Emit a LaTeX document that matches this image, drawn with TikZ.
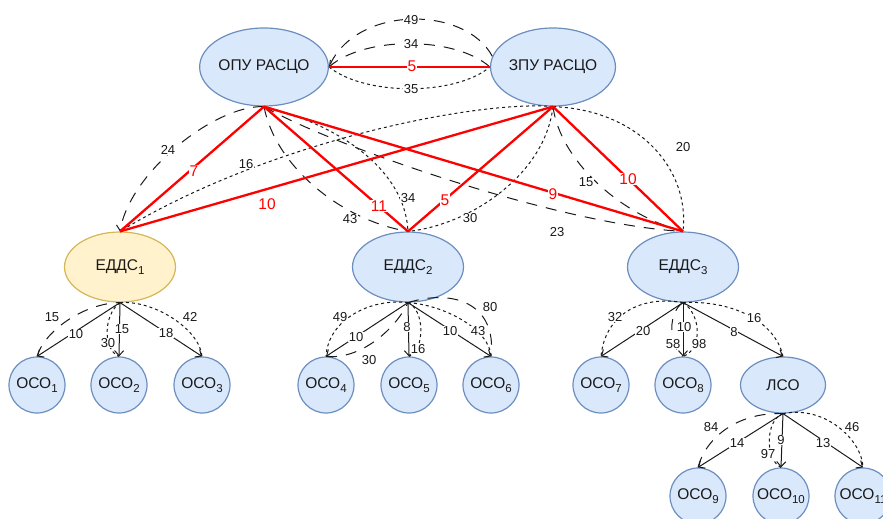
\documentclass[tikz,border=0pt]{standalone}
\usepackage{fontspec}
\setmainfont{Liberation Sans}
\usetikzlibrary{arrows.meta,shapes.geometric}

\definecolor{bluefill}{HTML}{DAE8FC}
\definecolor{bluedraw}{HTML}{6C8EBF}
\definecolor{yelfill}{HTML}{FFF2CC}
\definecolor{yeldraw}{HTML}{D6B656}
\definecolor{linkred}{HTML}{FF0000}
\definecolor{inkdark}{HTML}{1A1A1A}

% lowered index after a node name
\newcommand\lowidx[1]{\raisebox{-0.42ex}{\fontsize{11.5}{12}\selectfont #1}}

\begin{document}
\begin{tikzpicture}[x=1pt,y=-1pt,
  centrebox/.style={ellipse, draw=bluedraw, fill=bluefill, line width=1.2pt,
    minimum width=124pt, minimum height=78pt, inner sep=0pt,
    text=inkdark, font=\fontsize{15.5}{18}\selectfont},
  eddsbox/.style={centrebox, minimum width=111pt, minimum height=70pt},
  eddsmain/.style={eddsbox, draw=yeldraw, fill=yelfill},
  osobox/.style={circle, draw=bluedraw, fill=bluefill, line width=1.2pt,
    minimum size=56pt, inner sep=0pt, text=inkdark,
    font=\fontsize{15.5}{18}\selectfont},
  lsobox/.style={centrebox, minimum width=85pt, minimum height=56pt},
  link/.style={draw=inkdark, line width=1pt},
  tipped/.style={link, -{Straight Barb[length=5pt,width=9pt]}},
  lngdash/.style={link, dash pattern=on 11pt off 9pt},
  dotdash/.style={link, dash pattern=on 3pt off 3pt},
  redlink/.style={draw=linkred, line width=2.3pt},
  lbl/.style={fill=white, inner sep=0.6pt, text=inkdark,
    font=\fontsize{13}{14}\selectfont},
  rlbl/.style={lbl, text=linkred, font=\fontsize{15.5}{17}\selectfont},
]
\path[use as bounding box, clip] (0,0) rectangle (883,519);

% ---------- nodes ----------
\node[centrebox] (opu) at (264,67)  {ОПУ РАСЦО};
\node[centrebox] (zpu) at (553,67)  {ЗПУ РАСЦО};
\node[eddsmain]  (e1)  at (120,267) {ЕДДС\lowidx{1}};
\node[eddsbox]   (e2)  at (408,267) {ЕДДС\lowidx{2}};
\node[eddsbox]   (e3)  at (683,267) {ЕДДС\lowidx{3}};
\node[osobox] (o1) at (37,385)  {ОСО\lowidx{1}};
\node[osobox] (o2) at (119,385) {ОСО\lowidx{2}};
\node[osobox] (o3) at (202,385) {ОСО\lowidx{3}};
\node[osobox] (o4) at (326,385) {ОСО\lowidx{4}};
\node[osobox] (o5) at (409,385) {ОСО\lowidx{5}};
\node[osobox] (o6) at (491,385) {ОСО\lowidx{6}};
\node[osobox] (o7) at (601,385) {ОСО\lowidx{7}};
\node[osobox] (o8) at (683,385) {ОСО\lowidx{8}};
\node[lsobox] (lso) at (783,385) {ЛСО};
\node[osobox] (o9)  at (698,496) {ОСО\lowidx{9}};
\node[osobox] (o10) at (781,496) {ОСО\lowidx{10}};
\node[osobox] (o11) at (863,496) {ОСО\lowidx{11}};

% ---------- links between the two control points ----------
\draw[lngdash] (zpu.170) .. controls (465,5) and (355,5) .. (opu.east);
\draw[lngdash, -{Straight Barb[length=5pt,width=9pt]}] (zpu.west) .. controls (455,36) and (365,36) .. (opu.east);
\draw[dotdash] (opu.east) .. controls (365,96) and (455,96) .. (zpu.west);

% ---------- links from the control points to the ЕДДС ----------
\draw[lngdash, -{Straight Barb[length=5pt,width=9pt]}] (opu.south) .. controls (215,105) and (130,172) .. (e1.north);
\draw[lngdash] (opu.south) .. controls (275,165) and (340,220) .. (e2.north);
\draw[dotdash] (opu.south) .. controls (340,125) and (405,170) .. (e2.north);
\draw[lngdash] (opu.south) .. controls (330,145) and (560,225) .. (e3.north);
\draw[dotdash] (zpu.south) .. controls (480,100) and (270,140) .. (e1.north);
\draw[dotdash] (zpu.south) .. controls (545,175) and (470,225) .. (e2.north);
\draw[lngdash] (zpu.south) .. controls (560,160) and (620,215) .. (e3.north);
\draw[dotdash] (zpu.south) .. controls (640,110) and (690,170) .. (e3.north);

\draw[redlink] (opu.east) -- (zpu.west);
\draw[redlink] (opu.south) -- (e1.north);
\draw[redlink] (opu.south) -- (e2.north);
\draw[redlink] (opu.south) -- (e3.north);
\draw[redlink] (zpu.south) -- (e1.north);
\draw[redlink] (zpu.south) -- (e2.north);
\draw[redlink] (zpu.south) -- (e3.north);

% ---------- ЕДДС1 ----------
\draw[tipped] (e1.south) -- (o1.north);
\draw[lngdash] (o1.north) .. controls (45,330) and (85,303) .. (e1.south);
\draw[tipped] (e1.south) -- (o2.north);
\draw[dotdash] (e1.south) .. controls (103,315) and (103,350) .. (o2.north);
\draw[tipped] (e1.south) -- (o3.north);
\draw[dotdash] (e1.south) .. controls (155,300) and (200,330) .. (o3.north);

% ---------- ЕДДС2 ----------
\draw[dotdash] (e2.south) .. controls (370,298) and (328,320) .. (o4.north);
\draw[tipped] (e2.south) -- (o4.north);
\draw[lngdash] (o4.north) .. controls (360,360) and (395,330) .. (e2.south);
\draw[tipped] (e2.south) -- (o5.north);
\draw[dotdash] (e2.south) .. controls (425,310) and (425,350) .. (o5.north);
\draw[tipped] (e2.south) -- (o6.north);
\draw[dotdash] (e2.south) .. controls (445,305) and (490,330) .. (o6.north);
\draw[lngdash] (e2.south) .. controls (455,288) and (497,305) .. (o6.north);

% ---------- ЕДДС3 ----------
\draw[dotdash] (e3.south) .. controls (640,295) and (605,315) .. (o7.north);
\draw[tipped] (e3.south) -- (o7.north);
\draw[tipped] (e3.south) -- (o8.north);
\draw[lngdash] (e3.south) .. controls (668,312) and (668,345) .. (o8.north);
\draw[dotdash] (e3.south) .. controls (702,315) and (702,350) .. (o8.north);
\draw[tipped] (e3.south) -- (lso.north);
\draw[dotdash] (e3.south) .. controls (730,300) and (775,320) .. (lso.north);

% ---------- ЛСО ----------
\draw[lngdash] (o9.north) .. controls (705,440) and (735,412) .. (lso.south);
\draw[tipped] (lso.south) -- (o9.north);
\draw[tipped] (lso.south) -- (o10.north);
\draw[dotdash] (lso.south) .. controls (765,420) and (765,460) .. (o10.north);
\draw[tipped] (lso.south) -- (o11.north);
\draw[dotdash] (lso.south) .. controls (825,405) and (862,440) .. (o11.north);

% ---------- link weights ----------
\node[lbl]  (w49t) at (411,20)  {49};
\node[lbl]  (w34t) at (411,44)  {34};
\node[rlbl] (w5t)  at (412,66)  {5};
\node[lbl]  (w35t) at (411,89)  {35};

\node[lbl]  (w24)  at (168,150) {24};
\node[rlbl] (w7)   at (194,171) {7};
\node[lbl]  (w16)  at (246,164) {16};
\node[rlbl] (w10a) at (267,204) {10};
\node[lbl]  (w43)  at (350,219) {43};
\node[rlbl] (w11)  at (379,206) {11};
\node[lbl]  (w34)  at (408,198) {34};
\node[rlbl] (w5)   at (445,200) {5};
\node[lbl]  (w30)  at (470,218) {30};
\node[rlbl] (w9)   at (553,194) {9};
\node[lbl]  (w23)  at (557,232) {23};
\node[lbl]  (w15)  at (586,182) {15};
\node[rlbl] (w10b) at (628,179) {10};
\node[lbl]  (w20)  at (683,147) {20};

\node[lbl] (a15) at (52,317)  {15};
\node[lbl] (a10) at (76,334)  {10};
\node[lbl] (b15) at (122,329) {15};
\node[lbl] (b30) at (108,343) {30};
\node[lbl] (c18) at (166,333) {18};
\node[lbl] (c42) at (190,317) {42};

\node[lbl] (d49) at (340,317) {49};
\node[lbl] (d10) at (356,337) {10};
\node[lbl] (d30) at (369,360) {30};
\node[lbl] (f8)  at (407,327) {8};
\node[lbl] (f16) at (418,349) {16};
\node[lbl] (g10) at (450,331) {10};
\node[lbl] (g43) at (478,331) {43};
\node[lbl] (g80) at (490,307) {80};

\node[lbl] (h32) at (615,317) {32};
\node[lbl] (h20) at (643,331) {20};
\node[lbl] (k10) at (684,327) {10};
\node[lbl] (k58) at (673,344) {58};
\node[lbl] (k98) at (699,344) {98};
\node[lbl] (m8)  at (734,332) {8};
\node[lbl] (m16) at (754,318) {16};

\node[lbl] (n84) at (711,427) {84};
\node[lbl] (n14) at (737,443) {14};
\node[lbl] (p9)  at (781,440) {9};
\node[lbl] (p97) at (768,454) {97};
\node[lbl] (q13) at (823,443) {13};
\node[lbl] (q46) at (852,427) {46};
\end{tikzpicture}
\end{document}
